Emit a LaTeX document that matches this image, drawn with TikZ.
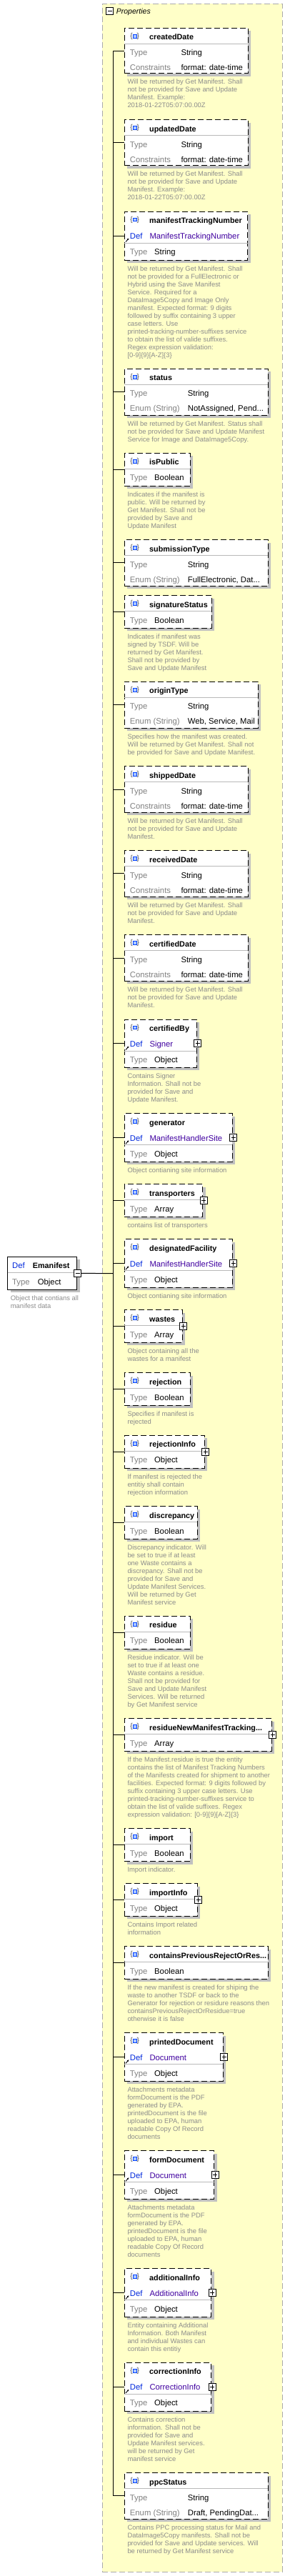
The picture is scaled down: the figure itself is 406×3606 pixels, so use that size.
\documentclass[tikz,border=0pt]{standalone}
\usepackage{fontspec}
\setmainfont{Liberation Sans}
\usepackage{tikz}
\usetikzlibrary{positioning}
\usetikzlibrary{shadows}
\usetikzlibrary{arrows.meta}
\usepackage{xcolor}

\definecolor{propyellow}{RGB}{255,255,200}
\definecolor{framegray}{RGB}{170,170,170}
\definecolor{shadowgray}{RGB}{192,192,192}
\definecolor{sepgray}{RGB}{185,185,185}
\definecolor{descgray}{RGB}{140,140,140}
\definecolor{labelgray}{RGB}{128,128,128}
\definecolor{defblue}{RGB}{0,40,220}
\definecolor{defpurple}{RGB}{64,0,160}
\definecolor{iconblue}{RGB}{0,64,255}
\definecolor{iconfill}{RGB}{170,200,255}
\definecolor{bracegray}{RGB}{80,80,80}

\tikzset{
  propframe/.style={draw=framegray, fill=propyellow, dash pattern=on 8pt off 4pt, line width=0.8pt, inner sep=0pt, outer sep=0pt, anchor=north west},
  propbox/.style={draw=black, fill=white, dash pattern=on 8pt off 4pt, line width=1pt, inner sep=0pt, outer sep=0pt, anchor=north west, drop shadow={fill=shadowgray, opacity=1, shadow xshift=4pt, shadow yshift=-4pt}},
  rootbox/.style={draw=black, fill=white, line width=1pt, inner sep=0pt, outer sep=0pt, anchor=north west, drop shadow={fill=shadowgray, opacity=1, shadow xshift=4pt, shadow yshift=-4pt}},
  titletext/.style={anchor=base west, inner sep=0pt, font=\fontsize{10.8}{12}\selectfont\bfseries},
  rowlabel/.style={anchor=base west, inner sep=0pt, text=labelgray, font=\fontsize{11.3}{13}\selectfont},
  rowvalue/.style={anchor=base west, inner sep=0pt, text=black, font=\fontsize{11.3}{13}\selectfont},
  deflabel/.style={rowlabel, text=defblue},
  defvalue/.style={rowvalue, text=defpurple},
  desctext/.style={anchor=north west, align=left, inner sep=0pt, text=descgray, font=\fontsize{9.4}{11}\selectfont},
  sepline/.style={draw=sepgray, line width=0.8pt},
  treeline/.style={draw=black, line width=1pt},
  plusbox/.style={draw=black, fill=white, line width=1.2pt, minimum size=10pt, inner sep=0pt, outer sep=0pt,
    path picture={\draw[black, line width=1pt] ([xshift=1.8pt]path picture bounding box.west) -- ([xshift=-1.8pt]path picture bounding box.east) ([yshift=-1.8pt]path picture bounding box.north) -- ([yshift=1.8pt]path picture bounding box.south);}},
  minusbox/.style={draw=black, fill=white, line width=1.2pt, minimum size=10pt, inner sep=0pt, outer sep=0pt,
    path picture={\draw[black, line width=1pt] ([xshift=1.8pt]path picture bounding box.west) -- ([xshift=-1.8pt]path picture bounding box.east);}},
  propicon/.pic={
    \node[inner sep=0pt, text=bracegray, font=\fontsize{10}{10}\selectfont] (lb) at (-4.6,0) {\{};
    \node[inner sep=0pt, text=bracegray, font=\fontsize{10}{10}\selectfont] (rb) at (4.6,0) {\}};
    \draw[draw=iconblue, fill=iconfill, line width=0.9pt] (-2.6,-2.3) rectangle (2.6,2.3);
  }
}

% box: name, top, right, bottom, title
\newcommand{\propbox}[5]{%
  \node[propbox, minimum width=#3pt-174pt, minimum height=#4pt-#2pt] (#1) at (174,-#2) {};
  \pic (#1-icon) at ([xshift=14.7pt, yshift=-11.5pt]#1.north west) {propicon};
  \node[titletext] (#1-title) at ([xshift=35pt, yshift=-16.3pt]#1.north west) {#5};
  \draw[treeline] (spine |- #1.west) -- (#1.west);
}
% box, value offset, value
\newcommand{\typerow}[3]{%
  \draw[sepline] ([yshift=-22pt]#1.north west) -- ([yshift=-22pt]#1.north east);
  \node[rowlabel] (#1-typelabel) at ([xshift=7.7pt, yshift=-38.5pt]#1.north west) {Type};
  \node[rowvalue] (#1-type) at ([xshift=#2pt, yshift=-38.5pt]#1.north west) {#3};
}
% box, label, value offset, value
\newcommand{\extrarow}[4]{%
  \node[rowlabel] (#1-extralabel) at ([xshift=7.7pt, yshift=-59.3pt]#1.north west) {#2};
  \node[rowvalue] (#1-extra) at ([xshift=#3pt, yshift=-59.3pt]#1.north west) {#4};
}
% box, definition, type
\newcommand{\defrow}[3]{%
  \draw[-{Latex[length=2.5pt, width=2.5pt]}, line width=0.9pt] ([xshift=2pt, yshift=-42.5pt]#1.north west) -- ([xshift=6.5pt, yshift=-37.5pt]#1.north west);
  \node[deflabel] (#1-deflabel) at ([xshift=7.7pt, yshift=-38.3pt]#1.north west) {Def};
  \node[defvalue] (#1-def) at ([xshift=35.3pt, yshift=-38.3pt]#1.north west) {#2};
  \draw[sepline] ([yshift=-44pt]#1.north west) -- ([yshift=-44pt]#1.north east);
  \node[rowlabel] (#1-typelabel) at ([xshift=7.7pt, yshift=-60.5pt]#1.north west) {Type};
  \node[rowvalue] (#1-type) at ([xshift=42pt, yshift=-60.5pt]#1.north west) {#3};
}
\newcommand{\propdesc}[2]{\node[desctext, below right=8pt and 4.3pt of #1.south west] (#1-desc) {#2};}
\newcommand{\propplus}[1]{\node[plusbox] (#1-plus) at ([xshift=1.5pt]#1.east) {};}

\begin{document}
\begin{tikzpicture}[x=1pt, y=1pt]
\useasboundingbox (0,0) rectangle (406,-3606);

\node[propframe, minimum width=252pt, minimum height=3594.7pt] (props) at (143.3,-5.3) {};
\node[minusbox] (props-minus) at (153.7,-15.5) {};
\node[anchor=base west, inner sep=0pt, font=\fontsize{10.5}{12}\selectfont\itshape] (props-title) at (162.7,-19.5) {Properties};
\coordinate (spine) at (158.7,-1782.7);

\node[rootbox, minimum width=97pt, minimum height=46pt] (emanifest) at (10.7,-1759.3) {};
\node[deflabel] (emanifest-deflabel) at ([xshift=6.3pt, yshift=-15.7pt]emanifest.north west) {Def};
\node[titletext] (emanifest-title) at ([xshift=35pt, yshift=-15.7pt]emanifest.north west) {Emanifest};
\draw[sepline] ([yshift=-22.4pt]emanifest.north west) -- ([yshift=-22.4pt]emanifest.north east);
\node[rowlabel] (emanifest-typelabel) at ([xshift=6.3pt, yshift=-38.7pt]emanifest.north west) {Type};
\node[rowvalue] (emanifest-type) at ([xshift=42pt, yshift=-38.7pt]emanifest.north west) {Object};
\node[minusbox] (emanifest-minus) at ([xshift=1.1pt]emanifest.east) {};
\node[desctext, below right=7.9pt and 4pt of emanifest.south west] (emanifest-desc) {Object that contians all\\manifest data};

\propbox{createdDate}{39.3}{347.3}{102.7}{createdDate}
\typerow{createdDate}{79.3}{String}
\extrarow{createdDate}{Constraints}{79.3}{format: date-time}
\propdesc{createdDate}{Will be returned by Get Manifest. Shall\\not be provided for Save and Update\\Manifest.  Example:\\2018-01-22T05:07:00.00Z}

\propbox{updatedDate}{167.7}{347.3}{231.7}{updatedDate}
\typerow{updatedDate}{79.3}{String}
\extrarow{updatedDate}{Constraints}{79.3}{format: date-time}
\propdesc{updatedDate}{Will be returned by Get Manifest. Shall\\not be provided for Save and Update\\Manifest.  Example:\\2018-01-22T05:07:00.00Z}

\propbox{trackingNumber}{296}{346.7}{364}{manifestTrackingNumber}
\defrow{trackingNumber}{ManifestTrackingNumber}{String}
\propdesc{trackingNumber}{Will be returned by Get Manifest. Shall\\not be provided for a FullElectronic or\\Hybrid using the Save Manifest\\Service.  Required for a\\DataImage5Copy and Image Only\\manifest. Expected format: 9 digits\\followed by suffix containing 3 upper\\case letters. Use\\printed-tracking-number-suffixes service\\to obtain the list of valide suffixes.\\Regex expression validation:\\{[}0-9{]}\{9\}{[}A-Z{]}\{3\}}

\propbox{status}{516.3}{375.3}{581.3}{status}
\typerow{status}{88.7}{String}
\extrarow{status}{Enum (String)}{88.7}{NotAssigned, Pend...}
\propdesc{status}{Will be returned by Get Manifest. Status shall\\not be provided for Save and Update Manifest\\Service for Image and DataImage5Copy.}

\propbox{isPublic}{634.3}{266}{680}{isPublic}
\typerow{isPublic}{42}{Boolean}
\propdesc{isPublic}{Indicates if the manifest is\\public. Will be returned by\\Get Manifest. Shall not be\\provided by Save and\\Update Manifest}

\propbox{submissionType}{755.7}{375.3}{820}{submissionType}
\typerow{submissionType}{88.7}{String}
\extrarow{submissionType}{Enum (String)}{88.7}{FullElectronic, Dat...}

\propbox{signatureStatus}{833.7}{296.3}{879}{signatureStatus}
\typerow{signatureStatus}{42}{Boolean}
\propdesc{signatureStatus}{Indicates if manifest was\\signed by TSDF. Will be\\returned by Get Manifest.\\Shall not be provided by\\Save and Update Manifest}

\propbox{originType}{954.3}{361.3}{1019}{originType}
\typerow{originType}{88.7}{String}
\extrarow{originType}{Enum (String)}{88.7}{Web, Service, Mail}
\propdesc{originType}{Specifies how the manifest was created.\\Will be returned by Get Manifest. Shall not\\be provided for Save and Update Manifest.}

\propbox{shippedDate}{1072.7}{347.3}{1137.3}{shippedDate}
\typerow{shippedDate}{79.3}{String}
\extrarow{shippedDate}{Constraints}{79.3}{format: date-time}
\propdesc{shippedDate}{Will be returned by Get Manifest. Shall\\not be provided for Save and Update\\Manifest.}

\propbox{receivedDate}{1190.7}{347.3}{1255}{receivedDate}
\typerow{receivedDate}{79.3}{String}
\extrarow{receivedDate}{Constraints}{79.3}{format: date-time}
\propdesc{receivedDate}{Will be returned by Get Manifest. Shall\\not be provided for Save and Update\\Manifest.}

\propbox{certifiedDate}{1308.7}{347.3}{1373.3}{certifiedDate}
\typerow{certifiedDate}{79.3}{String}
\extrarow{certifiedDate}{Constraints}{79.3}{format: date-time}
\propdesc{certifiedDate}{Will be returned by Get Manifest. Shall\\not be provided for Save and Update\\Manifest.}

\propbox{certifiedBy}{1427}{275.3}{1494}{certifiedBy}
\defrow{certifiedBy}{Signer}{Object}
\propplus{certifiedBy}
\propdesc{certifiedBy}{Contains Signer\\Information. Shall not be\\provided for Save and\\Update Manifest.}

\propbox{generator}{1558.7}{325.3}{1626.3}{generator}
\defrow{generator}{ManifestHandlerSite}{Object}
\propplus{generator}
\propdesc{generator}{Object contianing site information}

\propbox{transporters}{1657.7}{283.7}{1703.3}{transporters}
\typerow{transporters}{42}{Array}
\propplus{transporters}
\propdesc{transporters}{contains list of transporters}

\propbox{designatedFacility}{1734.7}{325.3}{1802.3}{designatedFacility}
\defrow{designatedFacility}{ManifestHandlerSite}{Object}
\propplus{designatedFacility}
\propdesc{designatedFacility}{Object contianing site information}

\propbox{wastes}{1833.7}{255.3}{1879}{wastes}
\typerow{wastes}{42}{Array}
\propplus{wastes}
\propdesc{wastes}{Object containing all the\\wastes for a manifest}

\propbox{rejection}{1921.7}{266}{1967.3}{rejection}
\typerow{rejection}{42}{Boolean}
\propdesc{rejection}{Specifies if manifest is\\rejected}

\propbox{rejectionInfo}{2009.3}{286.3}{2055.3}{rejectionInfo}
\typerow{rejectionInfo}{42}{Object}
\propplus{rejectionInfo}
\propdesc{rejectionInfo}{If manifest is rejected the\\entitiy shall contain\\rejection information}

\propbox{discrepancy}{2108.7}{276.3}{2154.3}{discrepancy}
\typerow{discrepancy}{42}{Boolean}
\propdesc{discrepancy}{Discrepancy indicator. Will\\be set to true if at least\\one Waste contains a\\discrepancy. Shall not be\\provided for Save and\\Update Manifest Services.\\Will be returned by Get\\Manifest service}

\propbox{residue}{2262.3}{266}{2308}{residue}
\typerow{residue}{42}{Boolean}
\propdesc{residue}{Residue indicator. Will be\\set to true if at least one\\Waste contains a residue.\\Shall not be provided for\\Save and Update Manifest\\Services. Will be returned\\by Get Manifest service}

\propbox{residueTracking}{2405.7}{380.3}{2451}{residueNewManifestTracking...}
\typerow{residueTracking}{42}{Array}
\propplus{residueTracking}
\propdesc{residueTracking}{If the Manifest.residue is true the entity\\contains the list of Manifest Tracking Numbers\\of the Manifests created for shipment to another\\facilities. Expected format: 9 digits followed by\\suffix containing 3 upper case letters. Use\\printed-tracking-number-suffixes service to\\obtain the list of valide suffixes.  Regex\\expression validation: {[}0-9{]}\{9\}{[}A-Z{]}\{3\}}

\propbox{import}{2559.7}{266}{2605.7}{import}
\typerow{import}{42}{Boolean}
\propdesc{import}{Import indicator.}

\propbox{importInfo}{2636.7}{276.3}{2682.3}{importInfo}
\typerow{importInfo}{42}{Object}
\propplus{importInfo}
\propdesc{importInfo}{Contains Import related\\information}

\propbox{previousReject}{2724.7}{375.3}{2770}{containsPreviousRejectOrRes...}
\typerow{previousReject}{42}{Boolean}
\propdesc{previousReject}{If the new manifest is created for shiping the\\waste to another TSDF or back to the\\Generator for rejection or residure reasons then\\containsPreviousRejectOrResidue=true\\otherwise it is false}

\propbox{printedDocument}{2845.7}{312.3}{2913.3}{printedDocument}
\defrow{printedDocument}{Document}{Object}
\propplus{printedDocument}
\propdesc{printedDocument}{Attachments metadata\\formDocument is the PDF\\generated by EPA.\\printedDocument is the file\\uploaded to EPA, human\\readable Copy Of Record\\documents}

\propbox{formDocument}{3010.7}{299.7}{3078.3}{formDocument}
\defrow{formDocument}{Document}{Object}
\propplus{formDocument}
\propdesc{formDocument}{Attachments metadata\\formDocument is the PDF\\generated by EPA.\\printedDocument is the file\\uploaded to EPA, human\\readable Copy Of Record\\documents}

\propbox{additionalInfo}{3175.7}{295.7}{3243.3}{additionalInfo}
\defrow{additionalInfo}{AdditionalInfo}{Object}
\propplus{additionalInfo}
\propdesc{additionalInfo}{Entity containing Additional\\Information. Both Manifest\\and individual Wastes can\\contain this entitiy}

\propbox{correctionInfo}{3307.3}{295.7}{3375.3}{correctionInfo}
\defrow{correctionInfo}{CorrectionInfo}{Object}
\propplus{correctionInfo}
\propdesc{correctionInfo}{Contains correction\\information. Shall not be\\provided for Save  and\\Update Manifest services.\\will be returned by Get\\manifest service}

\propbox{ppcStatus}{3461.7}{375.3}{3526}{ppcStatus}
\typerow{ppcStatus}{88.7}{String}
\extrarow{ppcStatus}{Enum (String)}{88.7}{Draft, PendingDat...}
\propdesc{ppcStatus}{Contains PPC processing status for Mail and\\DataImage5Copy manifests. Shall not be\\provided for Save and Update services. Will\\be returned by Get Manifest service}

\draw[treeline] (emanifest-minus.east) -- (spine);
\draw[treeline] (createdDate.west) -| (spine) |- (ppcStatus.west);
\end{tikzpicture}
\end{document}
